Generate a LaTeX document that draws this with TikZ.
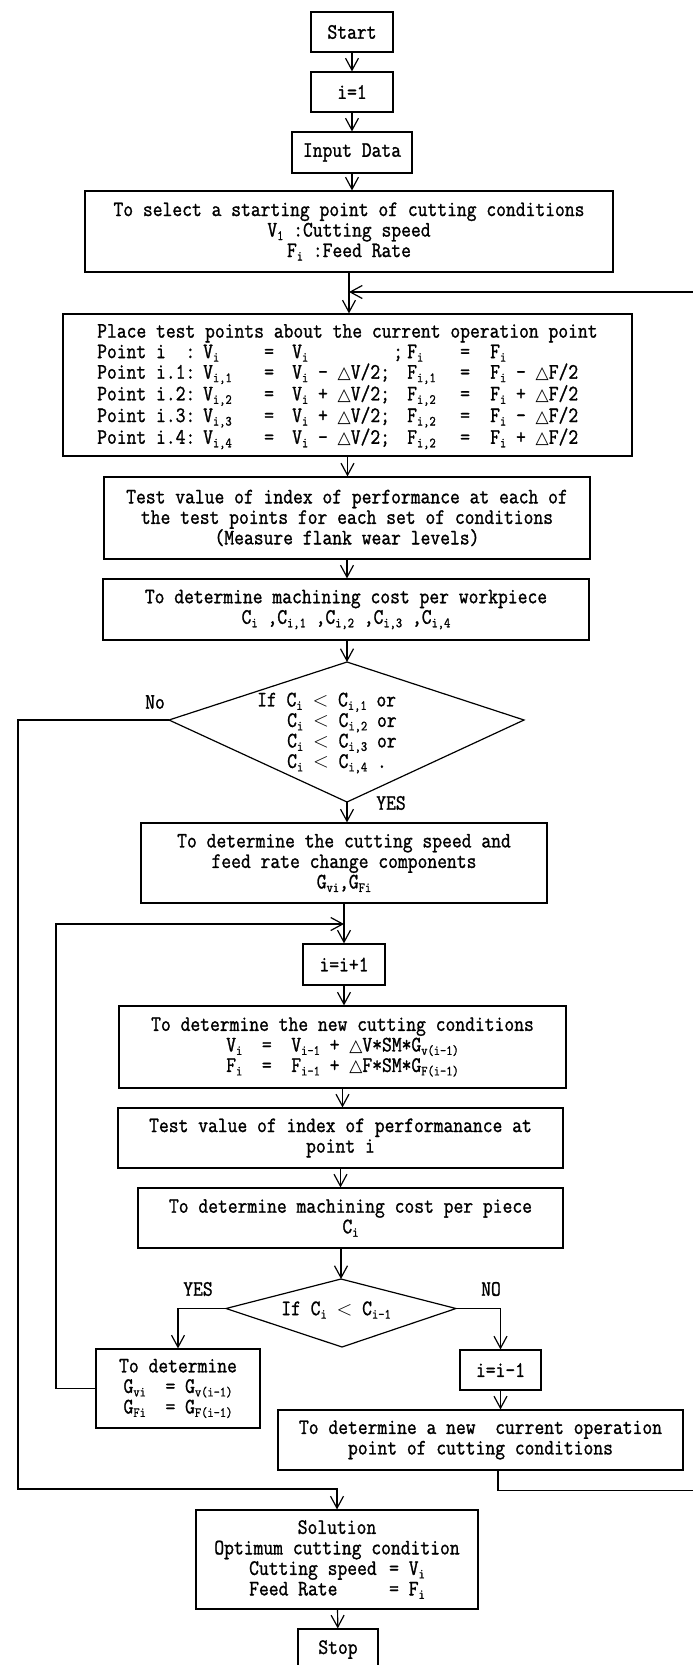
\documentclass[tikz,border=0pt]{standalone}
\usepackage{fontspec}
\newfontfamily\rf[FakeStretch=0.866,FakeBold=1.2]{Latin Modern Mono}
\newfontfamily\dv{DejaVu Sans}
\usetikzlibrary{arrows.meta}
\newcommand\sbs[1]{\raisebox{-3.5pt}{\fontsize{14}{14}\selectfont #1}}
\newcommand\tri{{\dv\fontsize{17}{17}\selectfont △}}
\newcommand\cA[2]{\makebox[#1pt][l]{#2}}
\tikzset{
  box/.style={draw, line width=1.2pt, rectangle, inner sep=0pt, align=center,
    font=\rf\fontsize{22}{20.5}\selectfont},
  txt/.style={inner sep=0pt, font=\rf\fontsize{22}{20.5}\selectfont},
  ln/.style={line width=1.2pt},
  arr/.style={line width=1.2pt, -{Straight Barb[length=12pt,width=13pt,line width=1.2pt]}},
}
\begin{document}
\begin{tikzpicture}[x=1pt,y=-1pt]
\useasboundingbox[fill=white] (0,0) rectangle (693,1665);

\node[box, minimum width=82pt, minimum height=40pt] (start) at (352,32) {Start};
\node[box, minimum width=82pt, minimum height=40pt] (i1) at (352,92) {i=1};
\node[box, minimum width=120pt, minimum height=41pt] (input) at (352,152.5) {Input Data};
\node[box, minimum width=528pt, minimum height=81pt] (select) at (349,231.5)
  {To select a starting point of cutting conditions\\V\sbs{1} :Cutting speed\\F\sbs{i} :Feed Rate};

\node[box, minimum width=569pt, minimum height=142pt] (place) at (347.5,385) {};
\node[txt, align=left, anchor=west] (placetext) at (97,386.7) {%
Place test points about the current operation point\\
\cA{106}{Point i~~:}\cA{61}{V\sbs{i}}\cA{28}{=}\cA{101}{V\sbs{i}}\cA{14}{;}\cA{53}{F\sbs{i}}\cA{30}{=}F\sbs{i}\\
\cA{106}{Point i.1:}\cA{61}{V\sbs{i,1}}\cA{28}{=}\cA{115}{V\sbs{i} - \tri V/2;}\cA{53}{F\sbs{i,1}}\cA{30}{=}F\sbs{i} - \tri F/2\\
\cA{106}{Point i.2:}\cA{61}{V\sbs{i,2}}\cA{28}{=}\cA{115}{V\sbs{i} + \tri V/2;}\cA{53}{F\sbs{i,2}}\cA{30}{=}F\sbs{i} + \tri F/2\\
\cA{106}{Point i.3:}\cA{61}{V\sbs{i,3}}\cA{28}{=}\cA{115}{V\sbs{i} + \tri V/2;}\cA{53}{F\sbs{i,2}}\cA{30}{=}F\sbs{i} - \tri F/2\\
\cA{106}{Point i.4:}\cA{61}{V\sbs{i,4}}\cA{28}{=}\cA{115}{V\sbs{i} - \tri V/2;}\cA{53}{F\sbs{i,2}}\cA{30}{=}F\sbs{i} + \tri F/2};

\node[box, minimum width=486pt, minimum height=82pt] (test) at (347,518)
  {Test value of index of performance at each of\\the test points for each set of conditions\\(Measure flank wear levels)};
\node[box, minimum width=486pt, minimum height=61pt] (cost1) at (346,609.5)
  {To determine machining cost per workpiece\\C\sbs{i} ,C\sbs{i,1} ,C\sbs{i,2} ,C\sbs{i,3} ,C\sbs{i,4}};

\coordinate (d1t) at (347,662);
\coordinate (d1l) at (169,720);
\coordinate (d1r) at (524,720);
\coordinate (d1b) at (347,802);
\draw[ln] (d1t) -- (d1r) -- (d1b) -- (d1l) -- cycle;
\node[txt, align=left, anchor=west] (d1text) at (257,733) {%
If C\sbs{i} $<$ C\sbs{i,1} or\\
\hspace*{30pt}C\sbs{i} $<$ C\sbs{i,2} or\\
\hspace*{30pt}C\sbs{i} $<$ C\sbs{i,3} or\\
\hspace*{30pt}C\sbs{i} $<$ C\sbs{i,4} .};
\node[txt] (no1) at (155,702) {No};
\node[txt] (yes1) at (391,803) {YES};

\node[box, minimum width=406pt, minimum height=80pt] (cutspeed) at (344,863)
  {To determine the cutting speed and\\feed rate change components\\G\sbs{vi},G\sbs{Fi}};
\node[box, minimum width=82pt, minimum height=41pt] (ip1) at (344,964.5) {i=i+1};
\node[box, minimum width=447pt, minimum height=82pt] (newcond) at (342.5,1047)
  {To determine the new cutting conditions\\
   V\sbs{i}~~=~~V\sbs{i-1} + \tri V*SM*G\sbs{v(i-1)}\\
   F\sbs{i}~~=~~F\sbs{i-1} + \tri F*SM*G\sbs{F(i-1)}};
\node[box, minimum width=445pt, minimum height=60pt] (testi) at (340.5,1138)
  {Test value of index of performanance at\\point i};
\node[box, minimum width=425pt, minimum height=60pt] (cost2) at (350.5,1218)
  {To determine machining cost per piece\\C\sbs{i}};

\coordinate (d2t) at (341,1279);
\coordinate (d2l) at (226,1308.5);
\coordinate (d2r) at (456,1308.5);
\coordinate (d2b) at (342,1347);
\draw[ln] (d2t) -- (d2r) -- (d2b) -- (d2l) -- cycle;
\node[txt] (d2text) at (336,1310) {If C\sbs{i} $<$ C\sbs{i-1}};
\node[txt] (yes2) at (198,1289) {YES};
\node[txt] (no2) at (491,1289) {NO};

\node[box, minimum width=164pt, minimum height=79pt] (gbox) at (178,1388.5)
  {To determine\\G\sbs{vi}~~= G\sbs{v(i-1)}\\G\sbs{Fi}~~= G\sbs{F(i-1)}};
\node[box, minimum width=81pt, minimum height=40pt] (im1) at (500.5,1370) {i=i-1};
\node[box, minimum width=405pt, minimum height=60pt] (newpt) at (480.5,1440)
  {To determine a new~~current operation\\point of cutting conditions};
\node[box, minimum width=282pt, minimum height=99pt] (sol) at (337,1559.5)
  {Solution\\Optimum cutting condition\\
   \makebox[140pt][l]{Cutting speed}= V\sbs{i}\\
   \makebox[140pt][l]{Feed Rate}= F\sbs{i}};
\node[box, minimum width=80pt, minimum height=41pt] (stop) at (338,1649.5) {Stop};

\coordinate (fbj) at (349,292);
\coordinate (loopj) at (344,924);

\draw[arr] (start) -- (i1);
\draw[arr] (i1) -- (input);
\draw[arr] (input.south) -- (input.south |- select.north);
\draw[arr] (select.south) -- (select.south |- place.north);
\draw[arr] ([xshift=17.5pt]newpt.south) -- ++(0,20) -| (705,292) -- (fbj);
\draw[arr] (place.south) -- (place.south |- test.north);
\draw[arr] (test.south) -- (test.south |- cost1.north);
\draw[arr] (cost1.south -| d1t) -- (d1t);
\draw[arr] (d1b) -- (d1b |- cutspeed.north);
\draw[arr] (d1l) -| (18,1489) -| (sol.north);
\draw[arr] (cutspeed.south) -- (cutspeed.south |- ip1.north);
\draw[arr] (gbox.west) -| (56,924) -- (loopj);
\draw[arr] (ip1.south) -- (ip1.south |- newcond.north);
\draw[arr] (newcond.south) -- (newcond.south |- testi.north);
\draw[arr] (testi.south) -- (testi.south |- cost2.north);
\draw[arr] (cost2.south -| d2t) -- (d2t);
\draw[arr] (d2l) -| (gbox.north);
\draw[arr] (d2r) -| (im1.north);
\draw[arr] (im1.south) -- (im1.south |- newpt.north);
\draw[arr] (sol) -- (stop);
\end{tikzpicture}
\end{document}
